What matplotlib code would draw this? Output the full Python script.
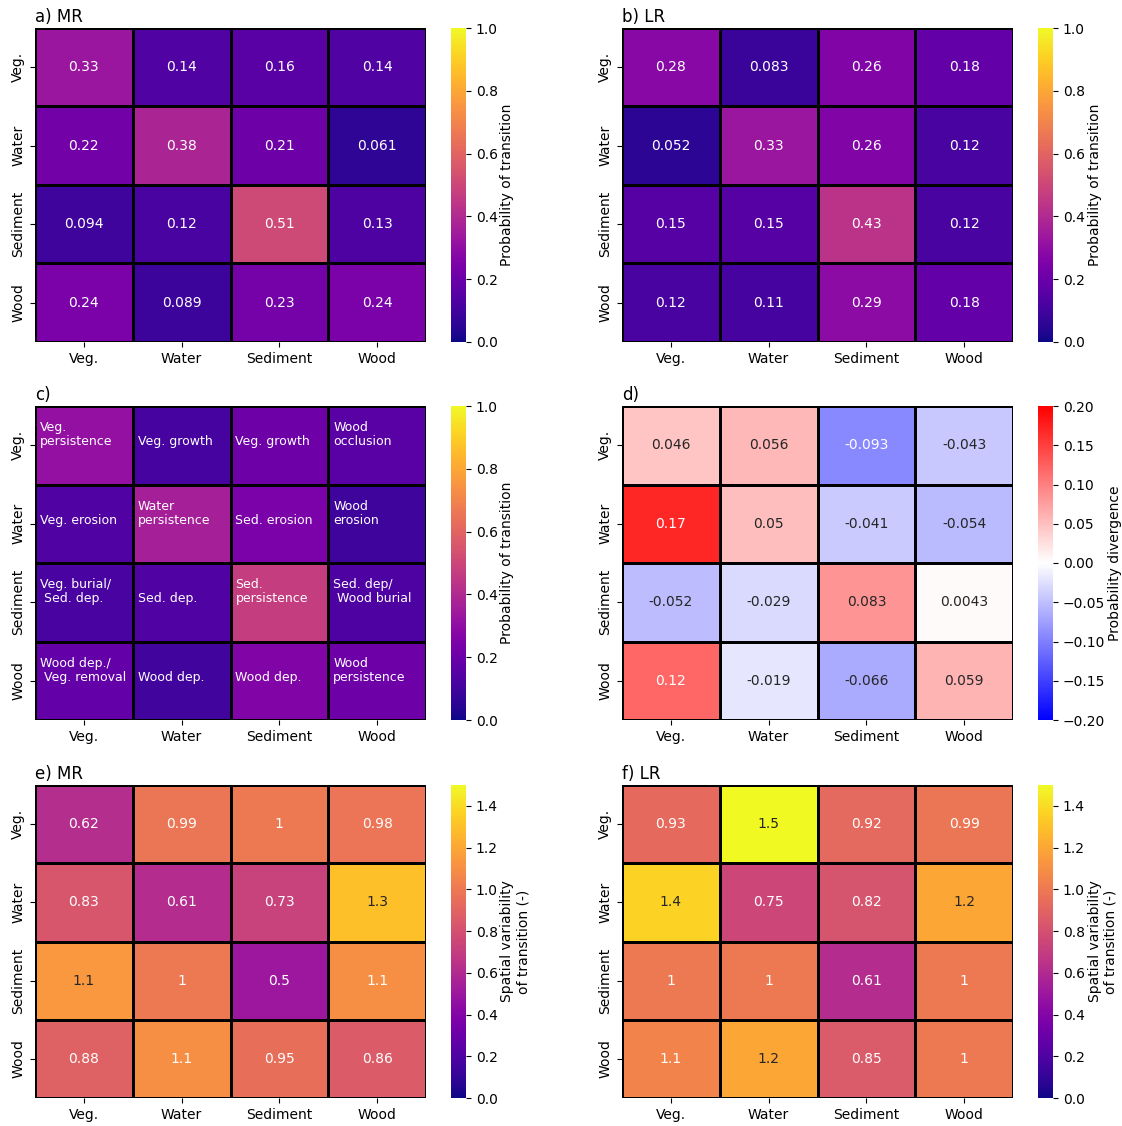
import numpy as np
import matplotlib
matplotlib.use("Agg")
import matplotlib.pyplot as plt
import seaborn as sns

classes = ["Veg.", "Water", "Sediment", "Wood"]

# transition probabilities (row = from, column = to)
prob_mr = [[0.33, 0.14, 0.16, 0.14],
           [0.22, 0.38, 0.21, 0.061],
           [0.094, 0.12, 0.51, 0.13],
           [0.24, 0.089, 0.23, 0.24]]
prob_lr = [[0.28, 0.083, 0.26, 0.18],
           [0.052, 0.33, 0.26, 0.12],
           [0.15, 0.15, 0.43, 0.12],
           [0.12, 0.11, 0.29, 0.18]]

# mean transition probabilities used to colour the process panel
prob_mean = [[0.31, 0.11, 0.21, 0.16],
             [0.14, 0.36, 0.24, 0.09],
             [0.12, 0.14, 0.47, 0.13],
             [0.18, 0.10, 0.26, 0.21]]
process_names = [["Veg.\npersistence", "Veg. growth", "Veg. growth", "Wood\nocclusion"],
                 ["Veg. erosion", "Water\npersistence", "Sed. erosion", "Wood\nerosion"],
                 ["Veg. burial/\n Sed. dep.", "Sed. dep.", "Sed.\npersistence", "Sed. dep/\n Wood burial"],
                 ["Wood dep./\n Veg. removal", "Wood dep.", "Wood dep.", "Wood\npersistence"]]

# MR - LR divergence
divergence = [[0.046, 0.056, -0.093, -0.043],
              [0.17, 0.05, -0.041, -0.054],
              [-0.052, -0.029, 0.083, 0.0043],
              [0.12, -0.019, -0.066, 0.059]]

# spatial variability of transitions
var_mr = [[0.62, 0.99, 1.0, 0.98],
          [0.83, 0.61, 0.73, 1.3],
          [1.14, 1.0, 0.5, 1.1],
          [0.88, 1.1, 0.95, 0.86]]
var_lr = [[0.93, 1.5, 0.92, 0.99],
          [1.36, 0.75, 0.82, 1.2],
          [1.0, 1.0, 0.61, 1.0],
          [1.05, 1.2, 0.85, 1.0]]

W, H = 1122, 1126
fig = plt.figure(figsize=(W / 100, H / 100), dpi=100)


def add_axes(left, top, right, bottom):
    return fig.add_axes([left / W, 1 - bottom / H, (right - left) / W, (bottom - top) / H])


rows = [(28, 342), (406, 720), (785, 1098)]
cols = [((35, 426), (451, 466)), ((622, 1013), (1038, 1053))]

panels = [
    ("a) MR", prob_mr, "plasma", 0, 1, "Probability of transition", True),
    ("b) LR", prob_lr, "plasma", 0, 1, "Probability of transition", True),
    ("c)", prob_mean, "plasma", 0, 1, "Probability of transition", False),
    ("d)", divergence, "bwr", -0.2, 0.2, "Probability divergence", True),
    ("e) MR", var_mr, "plasma", 0, 1.5, "Spatial variability\nof transition (-)", True),
    ("f) LR", var_lr, "plasma", 0, 1.5, "Spatial variability\nof transition (-)", True),
]

axes = []
for k, (title, data, cmap, vmin, vmax, cblabel, annot) in enumerate(panels):
    top, bottom = rows[k // 2]
    (hl, hr), (cl, cr) = cols[k % 2]
    ax = add_axes(hl, top, hr, bottom)
    cax = add_axes(cl, top, cr, bottom)
    sns.heatmap(np.array(data), ax=ax, cbar_ax=cax, cmap=cmap, vmin=vmin, vmax=vmax,
                annot=annot, linewidths=1, linecolor="black",
                xticklabels=classes, yticklabels=classes,
                annot_kws={"fontsize": 10})
    ax.set_yticklabels(classes, rotation=90, va="center")
    ax.set_xticklabels(classes, rotation=0)
    ax.tick_params(labelsize=10)
    ax.set_title(title, loc="left", fontsize=12, pad=4)
    cax.set_ylabel(cblabel, fontsize=10, labelpad=2)
    cax.tick_params(labelsize=10)
    if not annot:
        for i in range(4):
            for j in range(4):
                ax.text(j + 0.05, i + 0.54, process_names[i][j], color="white",
                        ha="left", va="bottom", fontsize=9, linespacing=1.1)
    axes.append(ax)

# Wood -> Veg. label in f) reads better in white
axes[5].texts[12].set_color("white")

fig.savefig("out.png", dpi=100)
